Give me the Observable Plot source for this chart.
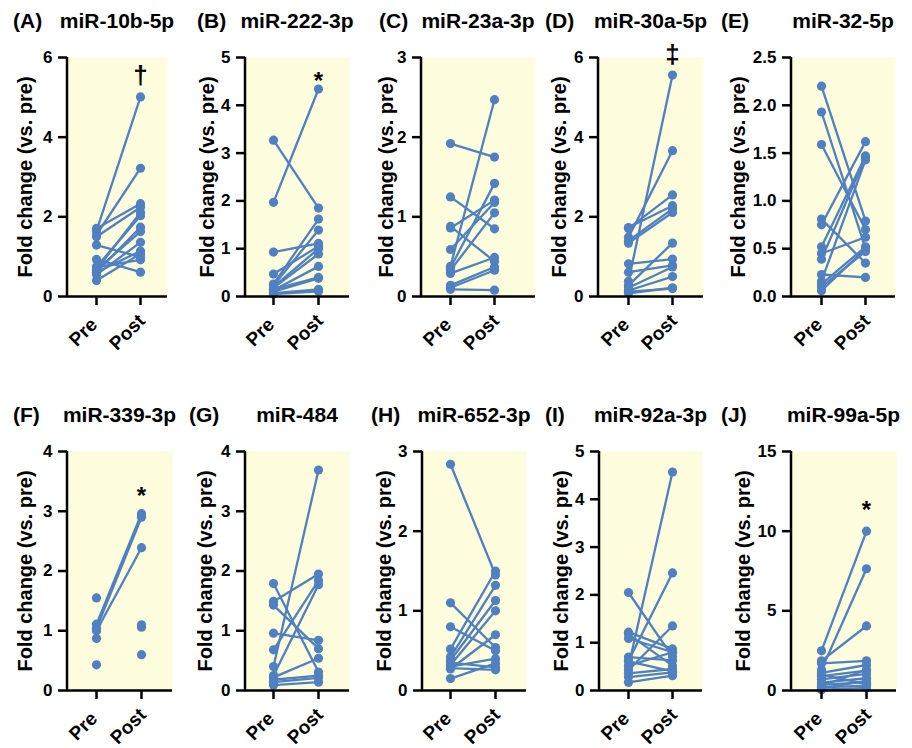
<!DOCTYPE html>
<html><head><meta charset="utf-8">
<script src="https://cdn.jsdelivr.net/npm/d3@7"></script>
<script src="https://cdn.jsdelivr.net/npm/@observablehq/plot@0.6"></script>
<style>
body{margin:0;background:#fff;}
#fig{position:relative;width:912px;height:748px;overflow:hidden;font-family:"Liberation Sans",Arial,sans-serif;color:#000;}
.ttl{position:absolute;font-weight:bold;font-size:21px;line-height:21px;white-space:nowrap;}
.panel{position:absolute;}
</style></head><body><div id="fig"></div>
<script>
// ---- data ----
const panelLetters = ["(A)","(B)","(C)","(D)","(E)","(F)","(G)","(H)","(I)","(J)"];
const mirNames = ["miR-10b-5p","miR-222-3p","miR-23a-3p","miR-30a-5p","miR-32-5p","miR-339-3p","miR-484","miR-652-3p","miR-92a-3p","miR-99a-5p"];
const timepoints = ["Pre","Post"];
const yMaxes = [6,5,3,6,2.5,4,4,3,5,15];
const yTickValues = [
  [0,2,4,6],[0,1,2,3,4,5],[0,1,2,3],[0,2,4,6],[0,0.5,1,1.5,2,2.5],
  [0,1,2,3,4],[0,1,2,3,4],[0,1,2,3],[0,1,2,3,4,5],[0,5,10,15]
];
const yLabel = "Fold change (vs. pre)";
const preValues = [
  [1.65,1.55,1.71,1.50,0.67,0.74,0.61,0.67,0.55,0.61,0.40,1.29,0.74,0.93],
  [3.27,1.97,0.93,0.47,0.26,0.23,0.20,0.18,0.13,0.10,0.07,0.05,0.15],
  [1.92,1.25,0.88,0.86,0.59,0.38,0.36,0.33,0.29,0.14,0.11,0.09],
  [0.38,1.49,1.71,1.73,1.40,1.34,0.28,0.82,0.61,0.22,0.15,0.08,0.12],
  [2.20,1.93,1.59,0.81,0.75,0.52,0.45,0.39,0.23,0.16,0.13,0.10,0.06],
  [1.11,1.04,1.00,1.55,0.87,0.43,null,null,null],
  [1.79,1.49,1.43,0.96,0.40,0.68,0.25,0.22,0.18,0.14,0.09],
  [2.84,1.10,0.80,0.52,0.42,0.38,0.32,0.27,0.30,0.15,0.35,0.28],
  [0.50,0.62,2.05,1.22,1.18,1.09,0.43,0.70,0.36,0.28,0.17,0.52,0.61],
  [2.49,1.30,1.86,1.70,1.10,0.90,0.70,0.50,0.35,0.20,0.05,1.00,0.30,0.15]
];
const postValues = [
  [5.01,3.22,2.33,2.24,2.11,2.03,1.74,1.63,1.36,1.14,1.07,0.99,0.92,0.61],
  [1.85,4.34,1.11,1.05,1.62,1.39,1.00,0.89,0.63,0.38,0.15,0.11,0.40],
  [1.75,0.85,0.44,1.21,1.18,2.47,1.42,1.05,0.49,0.37,0.33,0.08],
  [5.56,3.66,2.55,2.28,2.20,2.11,1.34,0.94,0.78,0.74,0.50,0.22,0.20],
  [0.79,0.50,0.70,0.35,1.62,1.47,0.62,1.46,0.20,1.43,0.52,0.47,0.50],
  [2.96,2.90,2.39,null,null,null,1.10,1.06,0.60],
  [0.31,1.95,0.70,0.84,3.69,1.84,1.77,0.54,0.25,0.21,0.14],
  [1.45,0.54,0.50,1.50,1.32,1.13,1.00,0.70,0.40,0.34,0.29,0.26],
  [4.57,2.46,0.71,0.87,0.52,0.80,1.35,0.63,0.45,0.38,0.31,0.80,0.40],
  [10.0,7.64,4.05,1.86,1.60,1.25,1.04,0.77,0.52,0.31,0.17,0.40,1.30,0.60]
];
const sigLabels = ["†","*","","‡","","*","","","","*"];
const sigValues = [5.55,4.6,null,6.08,null,3.33,null,null,null,11.6];

// ---- layout (pixels) ----
const axisLeft  = [67,245,421,598,791, 67,245,422,599,791];
const frameRight= [167,349,535,703,895, 172,349,526,702,896];
const preX      = [96,273,450,628,821, 96,273,450,628,821];
const postX     = [140,318,494,672,865, 141,318,495,672,866];
const yLabelX   = [25,207,386,559,738, 25,205,384,561,743];
const letterX   = [13,197,379,545,721, 13,189,371,545,721];
const rowTop = [0,394];
const BLUE = "#4f80c1", BG = "#fdfcdc";
const NS = "http://www.w3.org/2000/svg";

const fig = document.getElementById("fig");
const ML = 67, H = 354, MT = 57, MB = 58;

function leftAxisLine(index, scales, values, dims) {
  const l = document.createElementNS(NS, "line");
  l.setAttribute("x1", dims.marginLeft); l.setAttribute("x2", dims.marginLeft);
  l.setAttribute("y1", dims.marginTop); l.setAttribute("y2", dims.height - dims.marginBottom + 1.25);
  l.setAttribute("stroke", "black"); l.setAttribute("stroke-width", 2.5);
  return l;
}
function xTickLabels(index, scales, values, dims) {
  const g = document.createElementNS(NS, "g");
  for (const t of timepoints) {
    const el = document.createElementNS(NS, "text");
    const cx = scales.x(t) - 13, cy = dims.height - dims.marginBottom + 36;
    el.setAttribute("transform", `translate(${cx},${cy}) rotate(-45)`);
    el.setAttribute("text-anchor", "middle");
    el.setAttribute("dominant-baseline", "central");
    el.setAttribute("font-size", 19);
    el.setAttribute("font-weight", "bold");
    el.setAttribute("fill", "black");
    el.textContent = t;
    g.appendChild(el);
  }
  return g;
}

for (let i = 0; i < 10; i++) {
  const row = i < 5 ? 0 : 1;
  const svgLeft = axisLeft[i] - ML;
  const W = ML + (frameRight[i] - axisLeft[i]) + 14;
  const pairs = preValues[i].map((p, k) => ({pre: p, post: postValues[i][k]}));
  const full = pairs.filter(d => d.pre != null && d.post != null);
  const pts = [];
  pairs.forEach(d => {
    if (d.pre != null) pts.push({t: "Pre", v: d.pre});
    if (d.post != null) pts.push({t: "Post", v: d.post});
  });
  const marks = [
    Plot.frame({fill: BG, stroke: "none"}),
    Plot.link(full, {x1: () => "Pre", x2: () => "Post", y1: "pre", y2: "post", stroke: BLUE, strokeWidth: 2.3}),
    Plot.dot(pts, {x: "t", y: "v", r: 4.6, fill: BLUE, stroke: "none"}),
    Plot.ruleY([0], {stroke: "black", strokeWidth: 2.5}),
    leftAxisLine,
    Plot.axisY({ticks: yTickValues[i], tickSize: 9, tickPadding: 6, fontSize: 17, fontWeight: "bold",
      strokeWidth: 2.5, label: null, tickFormat: i === 4 ? d3.format(".1f") : d3.format("d")}),
    Plot.axisX({tickSize: 9, strokeWidth: 2.5, label: null, text: null}),
    xTickLabels,
    Plot.text([yLabel], {text: d => d, frameAnchor: "left", rotate: -90, dx: yLabelX[i] - axisLeft[i],
      textAnchor: "middle", lineAnchor: "middle", fontSize: 20, fontWeight: "bold"})
  ];
  if (sigLabels[i]) {
    marks.push(Plot.text([{s: sigLabels[i], v: sigValues[i]}], {x: () => "Post", y: "v", text: "s",
      fontSize: sigLabels[i] === "*" ? 24 : 26, fontWeight: "bold", lineAnchor: "middle",
      dy: sigLabels[i] === "*" ? 5 : 0}));
  }
  const chart = Plot.plot({
    width: W, height: H, marginLeft: ML, marginRight: W - ML - (frameRight[i] - axisLeft[i]),
    marginTop: MT, marginBottom: MB,
    style: {fontFamily: '"Liberation Sans", Arial, sans-serif', color: "black", background: "transparent", overflow: "visible"},
    x: {type: "point", domain: timepoints, padding: 0, range: [preX[i] - svgLeft, postX[i] - svgLeft]},
    y: {domain: [0, yMaxes[i]]},
    marks
  });
  chart.classList.add("panel");
  chart.style.left = svgLeft + "px";
  chart.style.top = rowTop[row] + "px";
  fig.appendChild(chart);

  const lt = document.createElement("div");
  lt.className = "ttl"; lt.textContent = panelLetters[i];
  lt.style.left = letterX[i] + "px"; lt.style.top = (rowTop[row] + 10) + "px";
  fig.appendChild(lt);
  const nt = document.createElement("div");
  nt.className = "ttl"; nt.textContent = mirNames[i];
  nt.style.left = ((axisLeft[i] + frameRight[i]) / 2) + "px"; nt.style.top = (rowTop[row] + 10) + "px";
  nt.style.transform = "translateX(-50%)";
  fig.appendChild(nt);
}
</script></body></html>
